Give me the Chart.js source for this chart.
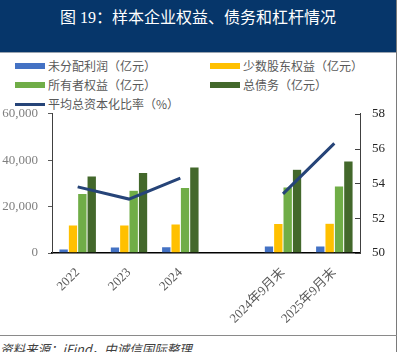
<!DOCTYPE html>
<html>
<head>
<meta charset="utf-8">
<script src="https://cdn.jsdelivr.net/npm/chart.js@4/dist/chart.umd.min.js"></script>
<style>
  html, body { margin: 0; padding: 0; background: #fff; }
  body { width: 415px; height: 352px; position: relative; overflow: hidden; font-family: 'Noto Sans CJK SC', sans-serif; }
  #banner { position: absolute; left: 0; top: 0; width: 396px; height: 52px; background: #06366a; border-bottom: 1px solid #9aa4b0; }
  #banner .t { position: absolute; left: 0; width: 396px; top: 4px; text-align: center; color: #fff; font-size: 16px; font-family: 'Liberation Serif', 'Noto Sans CJK SC', serif; }
  #frame { position: absolute; left: 396px; top: 0; width: 1px; height: 352px; background: #7a7a7a; }
  #rule { position: absolute; left: 0; top: 335px; width: 397px; height: 1px; background: #8a8a8a; }
  #src { position: absolute; left: 0; top: 339px; font-size: 12.5px; font-style: italic; color: #404040; white-space: nowrap; }
  #legend { position: absolute; left: 15px; top: 58px; }
  .item { position: absolute; font-size: 12px; color: #595959; white-space: nowrap; line-height: 16px; }
  .item i { position: absolute; left: 0; width: 30px; }
  .item span { position: absolute; left: 33px; top: 0; }
  #wrap { position: absolute; left: 0; top: 94px; width: 396px; height: 241px; }
</style>
</head>
<body>
<div id="banner"><div class="t">图 19：样本企业权益、债务和杠杆情况</div></div>
<div id="frame"></div>
<div id="legend"></div>
<div id="wrap"><canvas id="chart"></canvas></div>
<div id="rule"></div>
<div id="src">资料来源：iFind，中诚信国际整理</div>

<script>
// ── data ──────────────────────────────────────────────────────
const categories = ['2022', '2023', '2024', '', '2024年9月末', '2025年9月末'];

const retained   = [1700, 2600, 2700, null, 3000, 3000];      // 未分配利润（亿元）
const minority   = [12100, 12100, 12500, null, 12700, 12800]; // 少数股东权益（亿元）
const ownerEq    = [25600, 27000, 28200, null, 28500, 28900]; // 所有者权益（亿元）
const totalDebt  = [33200, 34700, 37100, null, 36100, 39700]; // 总债务（亿元）
const capRatio   = [53.8, 53.1, 54.3, null, 53.4, 56.3];      // 平均总资本化比率（%）

const leftTicks  = [0, 20000, 40000, 60000];
const rightTicks = [50, 52, 54, 56, 58];

// ── chart ─────────────────────────────────────────────────────
const serif = "'Liberation Serif', 'Noto Sans CJK SC', serif";

const bar = (label, data, color) => ({
  type: 'bar', label, data, backgroundColor: color,
  borderColor: 'rgba(255,255,255,0.5)', borderWidth: 0.5,
  categoryPercentage: 0.73, barPercentage: 1, yAxisID: 'y', order: 1
});

// small inward ticks on the right axis
const innerTicks = {
  id: 'innerTicks',
  afterDraw(chart) {
    const s = chart.scales.y1, ctx = chart.ctx;
    ctx.save();
    ctx.strokeStyle = '#404040';
    ctx.lineWidth = 1;
    s.ticks.forEach(t => {
      const y = Math.round(s.getPixelForValue(t.value)) + 0.5;
      ctx.beginPath(); ctx.moveTo(s.left - 5, y); ctx.lineTo(s.left, y); ctx.stroke();
    });
    ctx.restore();
  }
};

const chart = new Chart(document.getElementById('chart'), {
  data: {
    labels: categories,
    datasets: [
      { type: 'line', label: '平均总资本化比率（%）', data: capRatio, borderColor: '#264478',
        backgroundColor: '#264478', borderWidth: 3, pointRadius: 0, yAxisID: 'y1', order: 0, spanGaps: false },
      bar('未分配利润（亿元）', retained, '#4472c4'),
      bar('少数股东权益（亿元）', minority, '#ffc000'),
      bar('所有者权益（亿元）', ownerEq, '#70ad47'),
      bar('总债务（亿元）', totalDebt, '#43682b'),
    ]
  },
  options: {
    responsive: true, maintainAspectRatio: false, animation: false,
    layout: { padding: { top: 9 } },
    plugins: { legend: { display: false }, tooltip: { enabled: false } },
    scales: {
      x: {
        grid: { display: false },
        border: { display: true, color: '#000', width: 1.5 },
        ticks: { color: '#595959', font: { family: serif, size: 13 }, maxRotation: 45, minRotation: 45, padding: 4, autoSkip: false },
        afterFit: s => { s.height = 82; }
      },
      y: {
        position: 'left', min: 0, max: 60000,
        afterBuildTicks: s => { s.ticks = leftTicks.map(v => ({ value: v })); },
        grid: { drawOnChartArea: false, drawTicks: true, tickLength: 4, color: '#595959' },
        border: { display: true, color: '#404040', width: 1 },
        ticks: { color: '#7f7f7f', font: { family: serif, size: 13 }, padding: 10,
                 callback: v => v.toLocaleString('en-US') },
        afterFit: s => { s.width = 52; }
      },
      y1: {
        position: 'right', min: 50, max: 58,
        afterBuildTicks: s => { s.ticks = rightTicks.map(v => ({ value: v })); },
        grid: { drawOnChartArea: false, drawTicks: false },
        border: { display: true, color: '#404040', width: 1 },
        ticks: { color: '#262626', font: { family: serif, size: 13 }, padding: 12 },
        afterFit: s => { s.width = 36; }
      }
    }
  },
  plugins: [innerTicks]
});

// ── legend (two columns, like the original) ───────────────────
const legendOrder = [1, 2, 3, 4, 0];
const legendEl = document.getElementById('legend');
legendOrder.forEach((di, k) => {
  const ds = chart.data.datasets[di];
  const col = k % 2, row = Math.floor(k / 2);
  const item = document.createElement('div');
  item.className = 'item';
  item.style.left = (col * 195) + 'px';
  item.style.top = (row * 19) + 'px';
  const sw = document.createElement('i');
  if (ds.type === 'line') { sw.style.top = '7px'; sw.style.height = '3px'; }
  else { sw.style.top = '5px'; sw.style.height = '6px'; }
  sw.style.background = ds.type === 'line' ? ds.borderColor : ds.backgroundColor;
  const tx = document.createElement('span');
  tx.textContent = ds.label;
  item.appendChild(sw); item.appendChild(tx);
  legendEl.appendChild(item);
});
</script>
</body>
</html>
